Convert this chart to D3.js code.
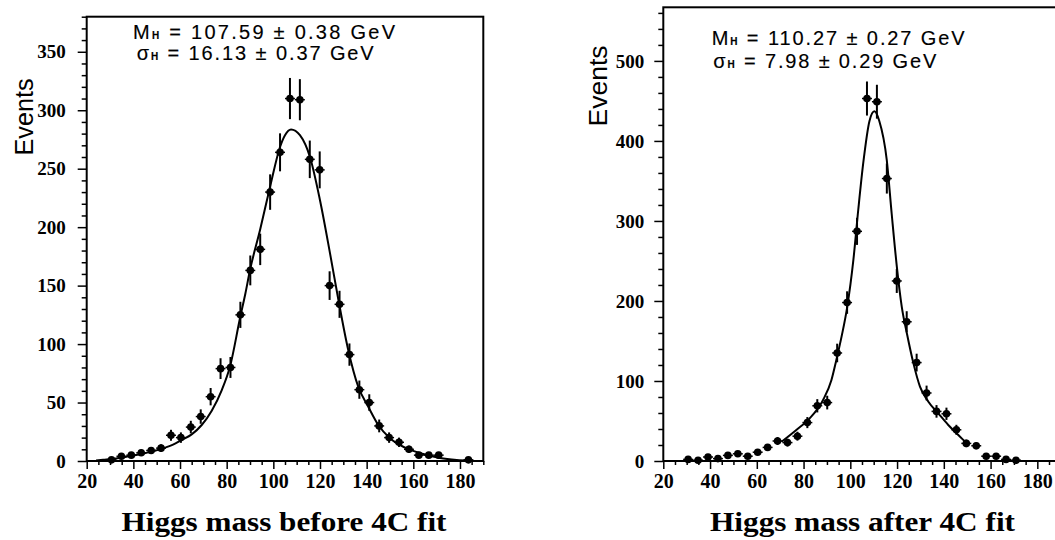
<!DOCTYPE html>
<html>
<head>
<meta charset="utf-8">
<script src="https://cdn.jsdelivr.net/npm/d3@7"></script>
<style>
  html, body { margin: 0; padding: 0; background: #fff; }
  svg { display: block; }
  .tick text { font-family: "Liberation Serif", "Times New Roman", serif; font-weight: bold; fill: #000; }
</style>
</head>
<body>
<svg id="chart" width="1055" height="540"></svg>
<script>
// Reconstructed Higgs mass bins (GeV), 40 bins of 4.25 GeV from 20 to 190
const massBins = [22.125, 26.375, 30.625, 34.875, 39.125, 43.375, 47.625, 51.875, 56.125, 60.375,
                  64.625, 68.875, 73.125, 77.375, 81.625, 85.875, 90.125, 94.375, 98.625, 102.875,
                  107.125, 111.375, 115.625, 119.875, 124.125, 128.375, 132.625, 136.875, 141.125, 145.375,
                  149.625, 153.875, 158.125, 162.375, 166.625, 170.875, 175.125, 179.375, 183.625, 187.875];
const binWidth = 4.25;

// Entries per bin before the 4C kinematic fit
const eventsBefore = [0, 0, 1, 4, 5, 7, 9, 11, 22, 20,
                      29, 38, 55, 79, 80, 125, 163, 181, 230, 264,
                      310, 309, 258, 249, 150, 134, 91, 61, 50, 30,
                      20, 16, 10, 5, 5, 5, 0, 0, 1, 0];

// Entries per bin after the 4C kinematic fit
const eventsAfter = [0, 0, 2, 1, 5, 3, 7, 9, 6, 11,
                     17, 25, 23, 31, 48, 69, 73, 135, 198, 287,
                     453, 449, 353, 225, 174, 123, 85, 62, 59, 39,
                     22, 19, 6, 6, 2, 1, 0, 0, 0, 0];

// Fitted line shape, sampled along the mass axis
const fitBeforeMass = [24, 27, 30.6, 35, 39.3, 44, 47.9, 53.6, 57, 60.7, 65, 69.3, 73.6, 77.9, 81.4,
                       85.9, 88, 90, 94.3, 98.6, 102.9, 105, 107.6, 111.4, 115.7, 120, 124.3, 127.9,
                       132.1, 136.4, 140.7, 145, 150, 157.1, 164.3, 171.4, 178.6, 184.3];
const fitBeforeEvents = [0.5, 1.0, 1.7, 3.0, 4.6, 6.2, 8, 11.4, 14, 18, 22.8, 30.8, 43, 60.7, 80.6,
                         124, 143, 163.3, 197.5, 234.5, 268.8, 278.7, 283.6, 278.7, 260, 223, 177.6, 137.7,
                         95, 63.5, 46.4, 30.8, 19.4, 10.8, 6, 2.6, 0.9, 0.3];

const fitAfterMass = [70.6, 76.9, 82.6, 88.3, 91.9, 94.0, 96.3, 98.7, 101.3, 103.4, 105.6, 108.2, 110.3,
                      112.4, 115.6, 117.7, 119.9, 122.0, 124.3, 127.0, 129.8, 133.4, 137.6, 141.9, 146.2, 150.5];
const fitAfterEvents = [24, 38.7, 53.3, 76, 101, 126, 156, 193, 251, 314, 374, 425, 437,
                        425, 376, 309, 243, 193, 158, 122, 93, 74, 59.6, 45, 32.5, 20];

// Axis tick values
const massTicks = [20, 40, 60, 80, 100, 120, 140, 160, 180];
const yTicksBefore = [0, 50, 100, 150, 200, 250, 300, 350];
const yTicksAfter = [0, 100, 200, 300, 400, 500];

// Fit results
const fitTextBefore = { mass: "107.59 ± 0.38 GeV", width: "16.13 ± 0.37 GeV" };
const fitTextAfter = { mass: "110.27 ± 0.27 GeV", width: "7.98 ± 0.29 GeV" };

const svg = d3.select("#chart");

function drawPanel(cfg) {
  const g = svg.append("g");
  const x = d3.scaleLinear().domain([20, 190]).range([cfg.left, cfg.right]);
  const y = d3.scaleLinear().domain([0, cfg.yMax]).range([cfg.bottom, cfg.top]);

  // minor ticks
  const xMinor = d3.range(20, 191, 5).filter(v => v % 20 !== 0);
  g.append("g").attr("transform", `translate(0,${cfg.bottom})`)
    .call(d3.axisBottom(x).tickValues(xMinor).tickSize(4).tickSizeOuter(0).tickFormat(""))
    .call(a => a.select(".domain").remove())
    .selectAll("line").attr("stroke", "#000").attr("stroke-width", 1.5);
  const yMinor = d3.range(0, cfg.yMax + 0.1, cfg.yMinorStep).filter(v => v % cfg.yMajorStep !== 0);
  g.append("g").attr("transform", `translate(${cfg.left},0)`)
    .call(d3.axisLeft(y).tickValues(yMinor).tickSize(5).tickSizeOuter(0).tickFormat(""))
    .call(a => a.select(".domain").remove())
    .selectAll("line").attr("stroke", "#000").attr("stroke-width", 1.5);

  // major ticks with labels
  const xAx = g.append("g").attr("transform", `translate(0,${cfg.bottom})`)
    .call(d3.axisBottom(x).tickValues(massTicks).tickSize(8).tickSizeOuter(0).tickPadding(5))
    .call(a => a.select(".domain").remove());
  xAx.selectAll("line").attr("stroke", "#000").attr("stroke-width", 1.5);
  xAx.selectAll("text").style("font-size", "20px");

  const yAx = g.append("g").attr("transform", `translate(${cfg.left},0)`)
    .call(d3.axisLeft(y).tickValues(cfg.yTicks).tickSize(9).tickSizeOuter(0).tickPadding(cfg.yPad))
    .call(a => a.select(".domain").remove());
  yAx.selectAll("line").attr("stroke", "#000").attr("stroke-width", 1.5);
  yAx.selectAll("text").style("font-size", "19px");

  // frame
  g.append("rect")
    .attr("x", cfg.left).attr("y", cfg.top)
    .attr("width", cfg.right - cfg.left).attr("height", cfg.bottom - cfg.top)
    .attr("fill", "none").attr("stroke", "#000").attr("stroke-width", 2);

  // fit curve
  const pts = cfg.fitMass.map((m, i) => [m, cfg.fitEvents[i]]);
  g.append("path")
    .datum(pts)
    .attr("fill", "none").attr("stroke", "#000").attr("stroke-width", 2)
    .attr("d", d3.line().x(d => x(d[0])).y(d => y(d[1])).curve(d3.curveMonotoneX));

  // data points with Poisson errors
  const data = massBins.map((m, i) => ({ m, n: cfg.counts[i] })).filter(d => d.n > 0);
  const pg = g.append("g").attr("stroke", "#000").attr("fill", "#000");
  pg.selectAll("line.v").data(data).join("line").attr("class", "v")
    .attr("x1", d => x(d.m)).attr("x2", d => x(d.m))
    .attr("y1", d => y(d.n + Math.sqrt(d.n))).attr("y2", d => y(Math.max(0, d.n - Math.sqrt(d.n))))
    .attr("stroke-width", 2);
  pg.selectAll("line.h").data(data).join("line").attr("class", "h")
    .attr("x1", d => x(d.m - binWidth / 2)).attr("x2", d => x(d.m + binWidth / 2))
    .attr("y1", d => y(d.n)).attr("y2", d => y(d.n))
    .attr("stroke-width", 1.5);
  pg.selectAll("circle").data(data).join("circle")
    .attr("cx", d => x(d.m)).attr("cy", d => y(d.n)).attr("r", 3.8)
    .attr("stroke", "none");

  // axis titles
  g.append("text")
    .attr("transform", `translate(${cfg.evX},${cfg.evY}) rotate(-90)`)
    .attr("text-anchor", "middle")
    .attr("font-family", "'Liberation Sans', Arial, sans-serif")
    .attr("font-size", 26)
    .attr("textLength", cfg.evLen).attr("lengthAdjust", "spacingAndGlyphs")
    .text("Events");

  g.append("text")
    .attr("x", cfg.titleX).attr("y", 531)
    .attr("text-anchor", "middle")
    .attr("font-family", "'Liberation Serif', 'Times New Roman', serif")
    .attr("font-weight", "bold")
    .attr("font-size", 28)
    .attr("textLength", cfg.titleLen).attr("lengthAdjust", "spacingAndGlyphs")
    .text(cfg.title);

  // fit results
  const lines = [
    { sym: "M", val: cfg.fitText.mass, y: cfg.txtY1, x: cfg.txtX1, len: cfg.txtLen1 },
    { sym: "σ", val: cfg.fitText.width, y: cfg.txtY2, x: cfg.txtX2, len: cfg.txtLen2 }
  ];
  lines.forEach(l => {
    const t = g.append("text")
      .attr("x", l.x).attr("y", l.y)
      .attr("font-family", "'Liberation Sans', Arial, sans-serif")
      .attr("font-size", 20)
      .attr("stroke", "#000").attr("stroke-width", 0.15)
      .attr("textLength", l.len).attr("lengthAdjust", "spacing");
    t.append("tspan").text(l.sym);
    t.append("tspan").attr("font-size", 10).attr("font-weight", "bold").text("H");
    t.append("tspan").text(" = " + l.val);
  });
}

drawPanel({
  left: 86.7, right: 483.3, top: 16.7, bottom: 461, yMax: 380,
  yTicks: yTicksBefore, yMajorStep: 50, yMinorStep: 10, yPad: 12,
  counts: eventsBefore, fitMass: fitBeforeMass, fitEvents: fitBeforeEvents,
  evX: 33, evY: 117, evLen: 77, titleX: 284, titleLen: 325, title: "Higgs mass before 4C fit",
  fitText: fitTextBefore, txtX1: 133, txtY1: 39, txtLen1: 262, txtX2: 136.7, txtY2: 60, txtLen2: 237
});

drawPanel({
  left: 663.3, right: 1060.7, top: 7.3, bottom: 461, yMax: 567,
  yTicks: yTicksAfter, yMajorStep: 100, yMinorStep: 20, yPad: 10,
  counts: eventsAfter, fitMass: fitAfterMass, fitEvents: fitAfterEvents,
  evX: 606.5, evY: 86, evLen: 81, titleX: 862.5, titleLen: 305, title: "Higgs mass after 4C fit",
  fitText: fitTextAfter, txtX1: 711.7, txtY1: 45, txtLen1: 253, txtX2: 713.3, txtY2: 68, txtLen2: 223
});
</script>
</body>
</html>
